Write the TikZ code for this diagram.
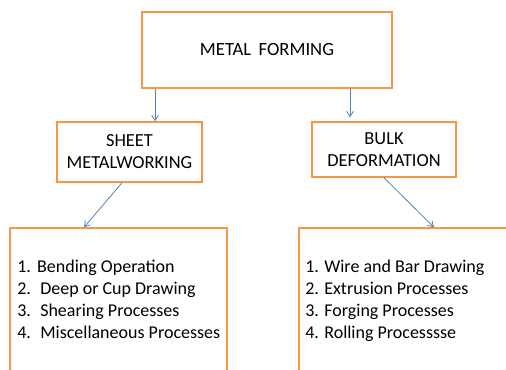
\documentclass[tikz,border=0pt]{standalone}
\usepackage{fontspec}
\setmainfont{Carlito}
\usepackage{xcolor}
\usetikzlibrary{arrows.meta}

\definecolor{boxorange}{RGB}{247,150,70}
\definecolor{arrowblue}{RGB}{79,129,189}

\tikzset{
  obox/.style={draw=boxorange, line width=1.1pt, inner sep=0pt, align=center, text=black},
  arr/.style={draw=arrowblue, line width=0.6pt, -{Straight Barb[length=4pt,width=5pt]}},
  listtext/.style={anchor=north west, inner sep=0pt, align=left, text=black, font=\fontsize{13.5}{16.5}\selectfont}
}

\begin{document}
\begin{tikzpicture}[x=0.75pt,y=0.75pt,yscale=-1,xscale=1]
\useasboundingbox (0,0) rectangle (506,369);
\clip (0,0) rectangle (506,369);

\node [obox, minimum width=187.5pt, minimum height=57pt, font=\fontsize{14}{17}\selectfont] (top) at (267,50) {METAL\, FORMING};
\node [obox, minimum width=108.75pt, minimum height=45pt, font=\fontsize{13.8}{16.5}\selectfont] (sheet) at (129.5,152) {SHEET\\METALWORKING};
\node [obox, minimum width=108pt, minimum height=41.25pt, font=\fontsize{13.8}{16.5}\selectfont] (bulk) at (384,149.5) {BULK\\DEFORMATION};
\node [obox, minimum width=162.75pt, minimum height=121.5pt] (slist) at (118.5,309) {};
\node [obox, minimum width=165.75pt, minimum height=121.5pt] (blist) at (409.5,309) {};

\node [listtext] (stext) at (17,260) {1.\hspace{4.7pt}Bending Operation\\2.\hspace{7pt}Deep or Cup Drawing\\3.\hspace{7pt}Shearing Processes\\4.\hspace{7pt}Miscellaneous Processes};
\node [listtext] (btext) at (305,260) {1. Wire and Bar Drawing\\2. Extrusion Processes\\3. Forging Processes\\4. Rolling Processsse};

\draw [arr] (top.south -| 155,0) -- (sheet.north -| 155,0);
\draw [arr] (top.south -| 350,0) -- ([yshift=-3pt]bulk.north -| 350,0);
\draw [arr] (sheet.south -| 122,0) -- (slist.north -| 84,0);
\draw [arr] (bulk.south) -- (blist.north -| 434,0);

\end{tikzpicture}
\end{document}
